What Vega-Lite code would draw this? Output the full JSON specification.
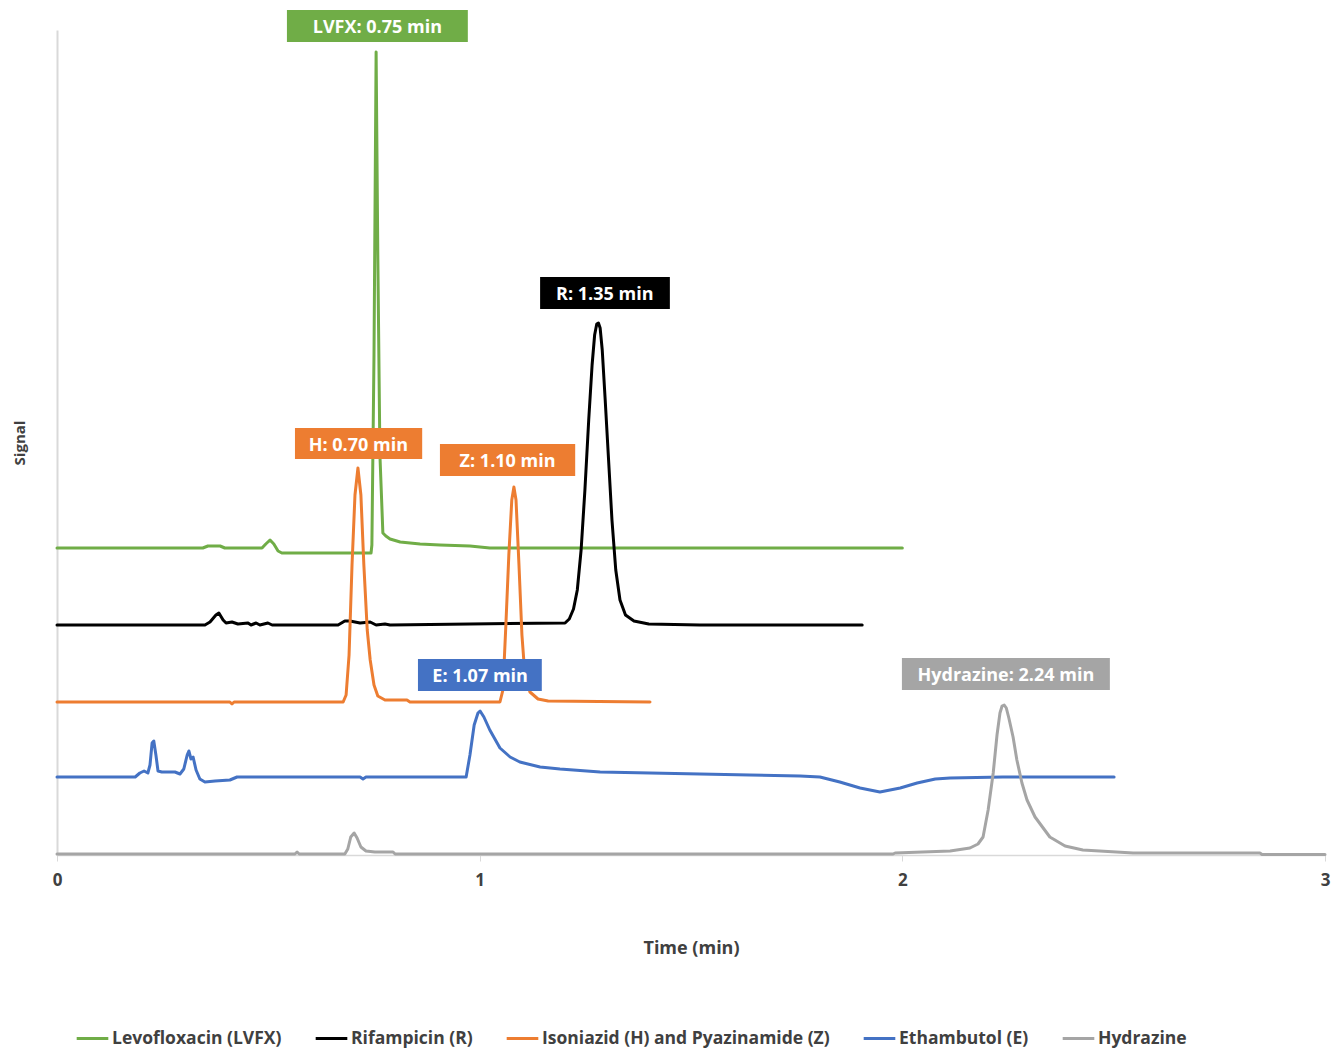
{
  "$schema": "https://vega.github.io/schema/vega-lite/v6.json",
  "width": 1268,
  "height": 825,
  "autosize": {"type": "none"},
  "padding": {"left": 57, "top": 30, "right": 15, "bottom": 194},
  "background": "white",
  "config": {"view": {"stroke": null}, "font": "Open Sans"},
  "datasets": {
    "traces": [
      {"series": "Levofloxacin (LVFX)", "t": 0, "s": 307},
      {"series": "Levofloxacin (LVFX)", "t": 0.345, "s": 307},
      {"series": "Levofloxacin (LVFX)", "t": 0.357, "s": 309},
      {"series": "Levofloxacin (LVFX)", "t": 0.386, "s": 309},
      {"series": "Levofloxacin (LVFX)", "t": 0.397, "s": 307},
      {"series": "Levofloxacin (LVFX)", "t": 0.485, "s": 307},
      {"series": "Levofloxacin (LVFX)", "t": 0.494, "s": 311},
      {"series": "Levofloxacin (LVFX)", "t": 0.504, "s": 315},
      {"series": "Levofloxacin (LVFX)", "t": 0.513, "s": 311},
      {"series": "Levofloxacin (LVFX)", "t": 0.523, "s": 304},
      {"series": "Levofloxacin (LVFX)", "t": 0.532, "s": 302},
      {"series": "Levofloxacin (LVFX)", "t": 0.743, "s": 302},
      {"series": "Levofloxacin (LVFX)", "t": 0.745, "s": 310},
      {"series": "Levofloxacin (LVFX)", "t": 0.750, "s": 500},
      {"series": "Levofloxacin (LVFX)", "t": 0.755, "s": 803},
      {"series": "Levofloxacin (LVFX)", "t": 0.759, "s": 600},
      {"series": "Levofloxacin (LVFX)", "t": 0.764, "s": 400},
      {"series": "Levofloxacin (LVFX)", "t": 0.771, "s": 322},
      {"series": "Levofloxacin (LVFX)", "t": 0.778, "s": 319},
      {"series": "Levofloxacin (LVFX)", "t": 0.788, "s": 316},
      {"series": "Levofloxacin (LVFX)", "t": 0.812, "s": 313},
      {"series": "Levofloxacin (LVFX)", "t": 0.859, "s": 311},
      {"series": "Levofloxacin (LVFX)", "t": 0.906, "s": 310},
      {"series": "Levofloxacin (LVFX)", "t": 0.977, "s": 309},
      {"series": "Levofloxacin (LVFX)", "t": 1.024, "s": 307},
      {"series": "Levofloxacin (LVFX)", "t": 2.0, "s": 307},

      {"series": "Rifampicin (R)", "t": 0, "s": 230},
      {"series": "Rifampicin (R)", "t": 0.350, "s": 230},
      {"series": "Rifampicin (R)", "t": 0.362, "s": 233},
      {"series": "Rifampicin (R)", "t": 0.376, "s": 240},
      {"series": "Rifampicin (R)", "t": 0.383, "s": 242},
      {"series": "Rifampicin (R)", "t": 0.393, "s": 235},
      {"series": "Rifampicin (R)", "t": 0.400, "s": 232},
      {"series": "Rifampicin (R)", "t": 0.414, "s": 233},
      {"series": "Rifampicin (R)", "t": 0.428, "s": 231},
      {"series": "Rifampicin (R)", "t": 0.452, "s": 232},
      {"series": "Rifampicin (R)", "t": 0.459, "s": 230},
      {"series": "Rifampicin (R)", "t": 0.471, "s": 232},
      {"series": "Rifampicin (R)", "t": 0.480, "s": 230},
      {"series": "Rifampicin (R)", "t": 0.499, "s": 232},
      {"series": "Rifampicin (R)", "t": 0.509, "s": 230},
      {"series": "Rifampicin (R)", "t": 0.665, "s": 230},
      {"series": "Rifampicin (R)", "t": 0.681, "s": 234},
      {"series": "Rifampicin (R)", "t": 0.693, "s": 234},
      {"series": "Rifampicin (R)", "t": 0.717, "s": 232},
      {"series": "Rifampicin (R)", "t": 0.741, "s": 233},
      {"series": "Rifampicin (R)", "t": 0.755, "s": 230},
      {"series": "Rifampicin (R)", "t": 0.776, "s": 231},
      {"series": "Rifampicin (R)", "t": 0.788, "s": 230},
      {"series": "Rifampicin (R)", "t": 0.977, "s": 231},
      {"series": "Rifampicin (R)", "t": 1.202, "s": 232},
      {"series": "Rifampicin (R)", "t": 1.212, "s": 236},
      {"series": "Rifampicin (R)", "t": 1.222, "s": 246},
      {"series": "Rifampicin (R)", "t": 1.231, "s": 265},
      {"series": "Rifampicin (R)", "t": 1.240, "s": 305},
      {"series": "Rifampicin (R)", "t": 1.249, "s": 365},
      {"series": "Rifampicin (R)", "t": 1.258, "s": 435},
      {"series": "Rifampicin (R)", "t": 1.266, "s": 490},
      {"series": "Rifampicin (R)", "t": 1.272, "s": 520},
      {"series": "Rifampicin (R)", "t": 1.277, "s": 531},
      {"series": "Rifampicin (R)", "t": 1.281, "s": 532},
      {"series": "Rifampicin (R)", "t": 1.285, "s": 527},
      {"series": "Rifampicin (R)", "t": 1.290, "s": 505},
      {"series": "Rifampicin (R)", "t": 1.297, "s": 455},
      {"series": "Rifampicin (R)", "t": 1.305, "s": 395},
      {"series": "Rifampicin (R)", "t": 1.313, "s": 335},
      {"series": "Rifampicin (R)", "t": 1.322, "s": 285},
      {"series": "Rifampicin (R)", "t": 1.332, "s": 255},
      {"series": "Rifampicin (R)", "t": 1.345, "s": 240},
      {"series": "Rifampicin (R)", "t": 1.365, "s": 234},
      {"series": "Rifampicin (R)", "t": 1.400, "s": 231},
      {"series": "Rifampicin (R)", "t": 1.521, "s": 230},
      {"series": "Rifampicin (R)", "t": 1.905, "s": 230},

      {"series": "Isoniazid (H) and Pyazinamide (Z)", "t": 0, "s": 153},
      {"series": "Isoniazid (H) and Pyazinamide (Z)", "t": 0.409, "s": 153},
      {"series": "Isoniazid (H) and Pyazinamide (Z)", "t": 0.414, "s": 151},
      {"series": "Isoniazid (H) and Pyazinamide (Z)", "t": 0.419, "s": 153},
      {"series": "Isoniazid (H) and Pyazinamide (Z)", "t": 0.677, "s": 153},
      {"series": "Isoniazid (H) and Pyazinamide (Z)", "t": 0.684, "s": 160},
      {"series": "Isoniazid (H) and Pyazinamide (Z)", "t": 0.691, "s": 200},
      {"series": "Isoniazid (H) and Pyazinamide (Z)", "t": 0.698, "s": 290},
      {"series": "Isoniazid (H) and Pyazinamide (Z)", "t": 0.705, "s": 360},
      {"series": "Isoniazid (H) and Pyazinamide (Z)", "t": 0.712, "s": 387},
      {"series": "Isoniazid (H) and Pyazinamide (Z)", "t": 0.719, "s": 360},
      {"series": "Isoniazid (H) and Pyazinamide (Z)", "t": 0.726, "s": 290},
      {"series": "Isoniazid (H) and Pyazinamide (Z)", "t": 0.734, "s": 225},
      {"series": "Isoniazid (H) and Pyazinamide (Z)", "t": 0.741, "s": 195},
      {"series": "Isoniazid (H) and Pyazinamide (Z)", "t": 0.750, "s": 170},
      {"series": "Isoniazid (H) and Pyazinamide (Z)", "t": 0.759, "s": 159},
      {"series": "Isoniazid (H) and Pyazinamide (Z)", "t": 0.776, "s": 155},
      {"series": "Isoniazid (H) and Pyazinamide (Z)", "t": 0.828, "s": 155},
      {"series": "Isoniazid (H) and Pyazinamide (Z)", "t": 0.835, "s": 153},
      {"series": "Isoniazid (H) and Pyazinamide (Z)", "t": 1.048, "s": 153},
      {"series": "Isoniazid (H) and Pyazinamide (Z)", "t": 1.055, "s": 165},
      {"series": "Isoniazid (H) and Pyazinamide (Z)", "t": 1.062, "s": 230},
      {"series": "Isoniazid (H) and Pyazinamide (Z)", "t": 1.069, "s": 300},
      {"series": "Isoniazid (H) and Pyazinamide (Z)", "t": 1.076, "s": 355},
      {"series": "Isoniazid (H) and Pyazinamide (Z)", "t": 1.081, "s": 368},
      {"series": "Isoniazid (H) and Pyazinamide (Z)", "t": 1.086, "s": 355},
      {"series": "Isoniazid (H) and Pyazinamide (Z)", "t": 1.093, "s": 290},
      {"series": "Isoniazid (H) and Pyazinamide (Z)", "t": 1.100, "s": 220},
      {"series": "Isoniazid (H) and Pyazinamide (Z)", "t": 1.107, "s": 180},
      {"series": "Isoniazid (H) and Pyazinamide (Z)", "t": 1.119, "s": 163},
      {"series": "Isoniazid (H) and Pyazinamide (Z)", "t": 1.138, "s": 156},
      {"series": "Isoniazid (H) and Pyazinamide (Z)", "t": 1.162, "s": 154},
      {"series": "Isoniazid (H) and Pyazinamide (Z)", "t": 1.403, "s": 153},

      {"series": "Ethambutol (E)", "t": 0, "s": 78},
      {"series": "Ethambutol (E)", "t": 0.185, "s": 78},
      {"series": "Ethambutol (E)", "t": 0.196, "s": 82},
      {"series": "Ethambutol (E)", "t": 0.206, "s": 84},
      {"series": "Ethambutol (E)", "t": 0.215, "s": 82},
      {"series": "Ethambutol (E)", "t": 0.220, "s": 90},
      {"series": "Ethambutol (E)", "t": 0.225, "s": 112},
      {"series": "Ethambutol (E)", "t": 0.229, "s": 114},
      {"series": "Ethambutol (E)", "t": 0.234, "s": 100},
      {"series": "Ethambutol (E)", "t": 0.239, "s": 84},
      {"series": "Ethambutol (E)", "t": 0.248, "s": 83},
      {"series": "Ethambutol (E)", "t": 0.279, "s": 83},
      {"series": "Ethambutol (E)", "t": 0.291, "s": 81},
      {"series": "Ethambutol (E)", "t": 0.300, "s": 86},
      {"series": "Ethambutol (E)", "t": 0.308, "s": 100},
      {"series": "Ethambutol (E)", "t": 0.312, "s": 104},
      {"series": "Ethambutol (E)", "t": 0.317, "s": 96},
      {"series": "Ethambutol (E)", "t": 0.322, "s": 98},
      {"series": "Ethambutol (E)", "t": 0.329, "s": 85},
      {"series": "Ethambutol (E)", "t": 0.338, "s": 76},
      {"series": "Ethambutol (E)", "t": 0.350, "s": 73},
      {"series": "Ethambutol (E)", "t": 0.374, "s": 74},
      {"series": "Ethambutol (E)", "t": 0.409, "s": 75},
      {"series": "Ethambutol (E)", "t": 0.426, "s": 78},
      {"series": "Ethambutol (E)", "t": 0.717, "s": 78},
      {"series": "Ethambutol (E)", "t": 0.724, "s": 76},
      {"series": "Ethambutol (E)", "t": 0.731, "s": 78},
      {"series": "Ethambutol (E)", "t": 0.968, "s": 78},
      {"series": "Ethambutol (E)", "t": 0.977, "s": 100},
      {"series": "Ethambutol (E)", "t": 0.987, "s": 130},
      {"series": "Ethambutol (E)", "t": 0.996, "s": 142},
      {"series": "Ethambutol (E)", "t": 1.001, "s": 144},
      {"series": "Ethambutol (E)", "t": 1.010, "s": 138},
      {"series": "Ethambutol (E)", "t": 1.024, "s": 125},
      {"series": "Ethambutol (E)", "t": 1.048, "s": 107},
      {"series": "Ethambutol (E)", "t": 1.072, "s": 98},
      {"series": "Ethambutol (E)", "t": 1.095, "s": 93},
      {"series": "Ethambutol (E)", "t": 1.143, "s": 88},
      {"series": "Ethambutol (E)", "t": 1.190, "s": 86},
      {"series": "Ethambutol (E)", "t": 1.285, "s": 83},
      {"series": "Ethambutol (E)", "t": 1.403, "s": 82},
      {"series": "Ethambutol (E)", "t": 1.521, "s": 81},
      {"series": "Ethambutol (E)", "t": 1.639, "s": 80},
      {"series": "Ethambutol (E)", "t": 1.758, "s": 79},
      {"series": "Ethambutol (E)", "t": 1.805, "s": 78},
      {"series": "Ethambutol (E)", "t": 1.852, "s": 73},
      {"series": "Ethambutol (E)", "t": 1.900, "s": 67},
      {"series": "Ethambutol (E)", "t": 1.947, "s": 63},
      {"series": "Ethambutol (E)", "t": 1.995, "s": 67},
      {"series": "Ethambutol (E)", "t": 2.035, "s": 72},
      {"series": "Ethambutol (E)", "t": 2.078, "s": 76},
      {"series": "Ethambutol (E)", "t": 2.113, "s": 77},
      {"series": "Ethambutol (E)", "t": 2.238, "s": 78},
      {"series": "Ethambutol (E)", "t": 2.501, "s": 78},

      {"series": "Hydrazine", "t": 0, "s": 1},
      {"series": "Hydrazine", "t": 0.563, "s": 1},
      {"series": "Hydrazine", "t": 0.568, "s": 3},
      {"series": "Hydrazine", "t": 0.573, "s": 1},
      {"series": "Hydrazine", "t": 0.681, "s": 1},
      {"series": "Hydrazine", "t": 0.688, "s": 6},
      {"series": "Hydrazine", "t": 0.695, "s": 18},
      {"series": "Hydrazine", "t": 0.703, "s": 22},
      {"series": "Hydrazine", "t": 0.710, "s": 17},
      {"series": "Hydrazine", "t": 0.719, "s": 8},
      {"series": "Hydrazine", "t": 0.731, "s": 4},
      {"series": "Hydrazine", "t": 0.752, "s": 3},
      {"series": "Hydrazine", "t": 0.795, "s": 3},
      {"series": "Hydrazine", "t": 0.800, "s": 1},
      {"series": "Hydrazine", "t": 1.978, "s": 1},
      {"series": "Hydrazine", "t": 1.983, "s": 2},
      {"series": "Hydrazine", "t": 2.113, "s": 4},
      {"series": "Hydrazine", "t": 2.160, "s": 7},
      {"series": "Hydrazine", "t": 2.179, "s": 11},
      {"series": "Hydrazine", "t": 2.191, "s": 18},
      {"series": "Hydrazine", "t": 2.203, "s": 45},
      {"series": "Hydrazine", "t": 2.215, "s": 82},
      {"series": "Hydrazine", "t": 2.224, "s": 120},
      {"series": "Hydrazine", "t": 2.231, "s": 142},
      {"series": "Hydrazine", "t": 2.236, "s": 149},
      {"series": "Hydrazine", "t": 2.241, "s": 150},
      {"series": "Hydrazine", "t": 2.246, "s": 147},
      {"series": "Hydrazine", "t": 2.252, "s": 137},
      {"series": "Hydrazine", "t": 2.262, "s": 118},
      {"series": "Hydrazine", "t": 2.271, "s": 95},
      {"series": "Hydrazine", "t": 2.283, "s": 72},
      {"series": "Hydrazine", "t": 2.295, "s": 55},
      {"series": "Hydrazine", "t": 2.314, "s": 38},
      {"series": "Hydrazine", "t": 2.349, "s": 18},
      {"series": "Hydrazine", "t": 2.385, "s": 9},
      {"series": "Hydrazine", "t": 2.427, "s": 5},
      {"series": "Hydrazine", "t": 2.546, "s": 2},
      {"series": "Hydrazine", "t": 2.846, "s": 2},
      {"series": "Hydrazine", "t": 2.851, "s": 0.5},
      {"series": "Hydrazine", "t": 3.0, "s": 0.5}
    ],
    "boxes": [
      {"series": "Levofloxacin (LVFX)", "label": "LVFX: 0.75 min", "t1": 0.544, "t2": 0.972, "s1": 813, "s2": 845, "tc": 0.758, "sc": 829},
      {"series": "Rifampicin (R)", "label": "R: 1.35 min", "t1": 1.143, "t2": 1.450, "s1": 546, "s2": 578, "tc": 1.296, "sc": 562},
      {"series": "Isoniazid (H) and Pyazinamide (Z)", "label": "H: 0.70 min", "t1": 0.563, "t2": 0.864, "s1": 396, "s2": 427, "tc": 0.713, "sc": 411.5},
      {"series": "Isoniazid (H) and Pyazinamide (Z)", "label": "Z: 1.10 min", "t1": 0.906, "t2": 1.226, "s1": 379, "s2": 411, "tc": 1.066, "sc": 395},
      {"series": "Ethambutol (E)", "label": "E: 1.07 min", "t1": 0.854, "t2": 1.147, "s1": 164, "s2": 196, "tc": 1.001, "sc": 180},
      {"series": "Hydrazine", "label": "Hydrazine: 2.24 min", "t1": 1.999, "t2": 2.491, "s1": 165, "s2": 197, "tc": 2.245, "sc": 181}
    ]
  },
  "layer": [
    {
      "data": {"name": "traces"},
      "mark": {"type": "line", "strokeWidth": 3, "strokeJoin": "round", "strokeCap": "round"},
      "encoding": {
        "x": {
          "field": "t", "type": "quantitative",
          "scale": {"domain": [0, 3], "nice": false},
          "axis": {
            "values": [0, 1, 2, 3], "format": "d", "grid": false, "title": "Time (min)",
            "domainColor": "#D9D9D9", "domainWidth": 1.5, "tickColor": "#D9D9D9", "tickSize": 6,
            "labelFont": "Open Sans", "labelFontSize": 17, "labelFontWeight": 700, "labelColor": "#404040",
            "labelPadding": 11, "labelFlush": false,
            "titleFont": "Open Sans", "titleFontSize": 18, "titleFontWeight": 700, "titleColor": "#404040",
            "titlePadding": 51
          }
        },
        "y": {
          "field": "s", "type": "quantitative",
          "scale": {"domain": [0, 825], "nice": false},
          "axis": {
            "title": "Signal", "labels": false, "ticks": false, "grid": false,
            "domainColor": "#D9D9D9", "domainWidth": 2,
            "titleFont": "Open Sans", "titleFontSize": 15, "titleFontWeight": 700, "titleColor": "#404040",
            "titlePadding": 30
          }
        },
        "color": {
          "field": "series", "type": "nominal",
          "scale": {
            "domain": ["Levofloxacin (LVFX)", "Rifampicin (R)", "Isoniazid (H) and Pyazinamide (Z)", "Ethambutol (E)", "Hydrazine"],
            "range": ["#70AD47", "#000000", "#ED7D31", "#4472C4", "#A5A5A5"]
          },
          "legend": {
            "orient": "none", "legendX": 18, "legendY": 991, "direction": "horizontal", "title": null,
            "symbolType": "stroke", "symbolSize": 1000, "symbolStrokeWidth": 3,
            "labelFont": "Open Sans", "labelFontSize": 17.5, "labelFontWeight": 700, "labelColor": "#404040",
            "labelOffset": 2, "columnPadding": 27, "labelLimit": 500
          }
        }
      }
    },
    {
      "data": {"name": "boxes"},
      "mark": {"type": "rect"},
      "encoding": {
        "x": {"field": "t1", "type": "quantitative"},
        "x2": {"field": "t2"},
        "y": {"field": "s1", "type": "quantitative"},
        "y2": {"field": "s2"},
        "color": {
          "field": "series", "type": "nominal", "legend": null,
          "scale": {
            "domain": ["Levofloxacin (LVFX)", "Rifampicin (R)", "Isoniazid (H) and Pyazinamide (Z)", "Ethambutol (E)", "Hydrazine"],
            "range": ["#70AD47", "#000000", "#ED7D31", "#4472C4", "#A5A5A5"]
          }
        }
      }
    },
    {
      "data": {"name": "boxes"},
      "mark": {"type": "text", "font": "Open Sans", "fontSize": 18, "fontWeight": 700, "color": "white", "align": "center", "baseline": "middle", "dy": 2},
      "encoding": {
        "x": {"field": "tc", "type": "quantitative"},
        "y": {"field": "sc", "type": "quantitative"},
        "text": {"field": "label"}
      }
    }
  ],
  "resolve": {"scale": {"color": "independent"}, "legend": {"color": "independent"}}
}
